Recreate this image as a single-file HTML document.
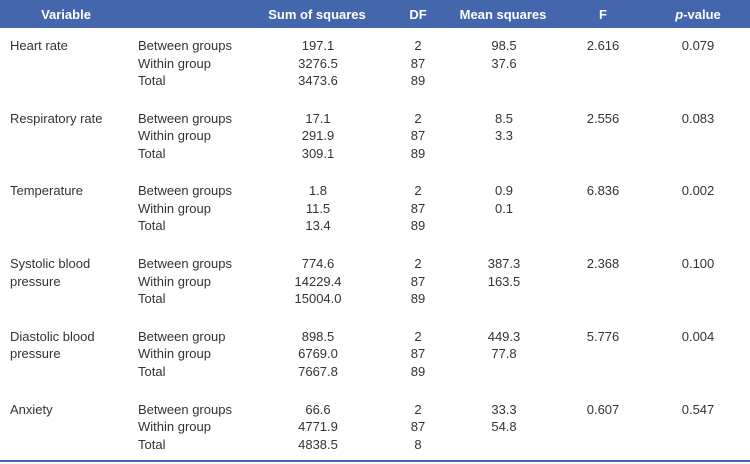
<!DOCTYPE html>
<html><head><meta charset="utf-8"><style>
body{margin:0;width:750px;height:464px;background:#fff;font-family:"Liberation Sans",sans-serif;color:#333;position:relative;overflow:hidden}
.hdr{position:absolute;left:0;top:0;width:750px;height:28px;background:#4466ad}
.h{position:absolute;top:7px;color:#fff;font-weight:bold;font-size:13px;transform:translateX(-50%);white-space:nowrap}
.t{position:absolute;font-size:13px;line-height:17.5px;white-space:nowrap}
.c{transform:translateX(-50%);text-align:center}
.bl{position:absolute;left:0;top:460px;width:750px;height:2px;background:#3a6db5}
</style></head><body>
<div class="hdr">
<div class="h" style="left:66px">Variable</div>
<div class="h" style="left:317px">Sum of squares</div>
<div class="h" style="left:418px">DF</div>
<div class="h" style="left:503px">Mean squares</div>
<div class="h" style="left:603px">F</div>
<div class="h" style="left:698px"><i>p</i>-value</div>
</div>
<div id="body"></div>
<div class="bl"></div>
<script>
const variables=["Heart rate","Respiratory rate","Temperature","Systolic blood<br>pressure","Diastolic blood<br>pressure","Anxiety"];
const sources=[["Between groups","Within group","Total"],["Between groups","Within group","Total"],["Between groups","Within group","Total"],["Between groups","Within group","Total"],["Between group","Within group","Total"],["Between groups","Within group","Total"]];
const ss=[["197.1","3276.5","3473.6"],["17.1","291.9","309.1"],["1.8","11.5","13.4"],["774.6","14229.4","15004.0"],["898.5","6769.0","7667.8"],["66.6","4771.9","4838.5"]];
const df=[["2","87","89"],["2","87","89"],["2","87","89"],["2","87","89"],["2","87","89"],["2","87","8"]];
const ms=[["98.5","37.6"],["8.5","3.3"],["0.9","0.1"],["387.3","163.5"],["449.3","77.8"],["33.3","54.8"]];
const fv=["2.616","2.556","6.836","2.368","5.776","0.607"];
const pv=["0.079","0.083","0.002","0.100","0.004","0.547"];
const b=document.getElementById('body');
function add(html,left,top,center,name){
 const d=document.createElement('div');
 d.className='t'+(center?' c':'');
 d.style.left=left+'px';d.style.top=top+'px';d.innerHTML=html;
 
 
 b.appendChild(d);
}
variables.forEach((v,i)=>{
 const y=37+i*72.7;
 add(v,10,y,false,'variable-name');
 add(sources[i].join('<br>'),138,y,false,'source-labels');
 add(ss[i].join('<br>'),318,y,true,'sum-of-squares-values');
 add(df[i].join('<br>'),418,y,true,'df-values');
 add(ms[i].join('<br>'),504,y,true,'mean-squares-values');
 add(fv[i],603,y,true,'f-value');
 add(pv[i],698,y,true,'p-value');
});
</script>
</body></html>
